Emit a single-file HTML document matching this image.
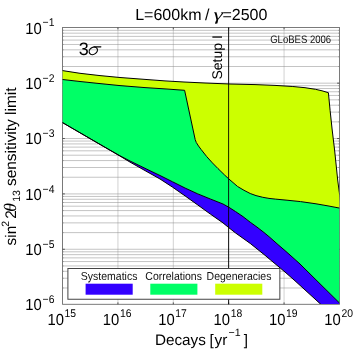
<!DOCTYPE html>
<html><head><meta charset="utf-8"><title>chart</title>
<style>html,body{margin:0;padding:0;background:#fff;width:357px;height:357px;overflow:hidden}
body{position:relative;font-family:"Liberation Sans",sans-serif}</style></head>
<body>
<svg width="357" height="357" viewBox="0 0 357 357" text-rendering="geometricPrecision" style="position:absolute;left:0;top:0;will-change:transform">
<defs><clipPath id="c"><rect x="62.30" y="27.45" width="276.95" height="276.65"/></clipPath></defs>
<rect x="0" y="0" width="357" height="357" fill="#fff"/>
<path d="M117.93 27.45V304.30M173.31 27.45V304.30M228.69 27.45V304.30M284.07 27.45V304.30" stroke="#a4a4a4" stroke-width="0.5" fill="none"/>
<path d="M62.55 83.17H339.45M62.55 66.50H339.45M62.55 56.75H339.45M62.55 49.83H339.45M62.55 44.47H339.45M62.55 40.08H339.45M62.55 36.38H339.45M62.55 33.17H339.45M62.55 30.33H339.45M62.55 138.54H339.45M62.55 121.87H339.45M62.55 112.12H339.45M62.55 105.20H339.45M62.55 99.84H339.45M62.55 95.45H339.45M62.55 91.75H339.45M62.55 88.54H339.45M62.55 85.70H339.45M62.55 193.91H339.45M62.55 177.24H339.45M62.55 167.49H339.45M62.55 160.57H339.45M62.55 155.21H339.45M62.55 150.82H339.45M62.55 147.12H339.45M62.55 143.91H339.45M62.55 141.07H339.45M62.55 249.28H339.45M62.55 232.61H339.45M62.55 222.86H339.45M62.55 215.94H339.45M62.55 210.58H339.45M62.55 206.19H339.45M62.55 202.49H339.45M62.55 199.28H339.45M62.55 196.44H339.45M62.55 287.98H339.45M62.55 278.23H339.45M62.55 271.31H339.45M62.55 265.95H339.45M62.55 261.56H339.45M62.55 257.86H339.45M62.55 254.65H339.45M62.55 251.81H339.45" stroke="#888888" stroke-width="0.5" fill="none"/>
<rect x="62.55" y="27.45" width="276.90" height="276.85" fill="none" stroke="#6c6c6c" stroke-width="0.9"/>
<g stroke="#777" stroke-width="0.7"><line x1="117.93" y1="304.30" x2="117.93" y2="302.40" stroke="#444" stroke-width="0.9"/><line x1="117.93" y1="27.45" x2="117.93" y2="29.35" stroke="#444" stroke-width="0.9"/><line x1="173.31" y1="304.30" x2="173.31" y2="302.40" stroke="#444" stroke-width="0.9"/><line x1="173.31" y1="27.45" x2="173.31" y2="29.35" stroke="#444" stroke-width="0.9"/><line x1="228.69" y1="304.30" x2="228.69" y2="302.40" stroke="#444" stroke-width="0.9"/><line x1="228.69" y1="27.45" x2="228.69" y2="29.35" stroke="#444" stroke-width="0.9"/><line x1="284.07" y1="304.30" x2="284.07" y2="302.40" stroke="#444" stroke-width="0.9"/><line x1="284.07" y1="27.45" x2="284.07" y2="29.35" stroke="#444" stroke-width="0.9"/><line x1="62.55" y1="83.17" x2="64.85" y2="83.17" stroke="#444" stroke-width="0.9"/><line x1="339.45" y1="83.17" x2="337.15" y2="83.17" stroke="#444" stroke-width="0.9"/><line x1="62.55" y1="66.50" x2="63.55" y2="66.50"/><line x1="339.45" y1="66.50" x2="338.45" y2="66.50"/><line x1="62.55" y1="56.75" x2="63.55" y2="56.75"/><line x1="339.45" y1="56.75" x2="338.45" y2="56.75"/><line x1="62.55" y1="49.83" x2="63.55" y2="49.83"/><line x1="339.45" y1="49.83" x2="338.45" y2="49.83"/><line x1="62.55" y1="44.47" x2="63.55" y2="44.47"/><line x1="339.45" y1="44.47" x2="338.45" y2="44.47"/><line x1="62.55" y1="40.08" x2="63.55" y2="40.08"/><line x1="339.45" y1="40.08" x2="338.45" y2="40.08"/><line x1="62.55" y1="36.38" x2="63.55" y2="36.38"/><line x1="339.45" y1="36.38" x2="338.45" y2="36.38"/><line x1="62.55" y1="33.17" x2="63.55" y2="33.17"/><line x1="339.45" y1="33.17" x2="338.45" y2="33.17"/><line x1="62.55" y1="30.33" x2="63.55" y2="30.33"/><line x1="339.45" y1="30.33" x2="338.45" y2="30.33"/><line x1="62.55" y1="138.54" x2="64.85" y2="138.54" stroke="#444" stroke-width="0.9"/><line x1="339.45" y1="138.54" x2="337.15" y2="138.54" stroke="#444" stroke-width="0.9"/><line x1="62.55" y1="121.87" x2="63.55" y2="121.87"/><line x1="339.45" y1="121.87" x2="338.45" y2="121.87"/><line x1="62.55" y1="112.12" x2="63.55" y2="112.12"/><line x1="339.45" y1="112.12" x2="338.45" y2="112.12"/><line x1="62.55" y1="105.20" x2="63.55" y2="105.20"/><line x1="339.45" y1="105.20" x2="338.45" y2="105.20"/><line x1="62.55" y1="99.84" x2="63.55" y2="99.84"/><line x1="339.45" y1="99.84" x2="338.45" y2="99.84"/><line x1="62.55" y1="95.45" x2="63.55" y2="95.45"/><line x1="339.45" y1="95.45" x2="338.45" y2="95.45"/><line x1="62.55" y1="91.75" x2="63.55" y2="91.75"/><line x1="339.45" y1="91.75" x2="338.45" y2="91.75"/><line x1="62.55" y1="88.54" x2="63.55" y2="88.54"/><line x1="339.45" y1="88.54" x2="338.45" y2="88.54"/><line x1="62.55" y1="85.70" x2="63.55" y2="85.70"/><line x1="339.45" y1="85.70" x2="338.45" y2="85.70"/><line x1="62.55" y1="193.91" x2="64.85" y2="193.91" stroke="#444" stroke-width="0.9"/><line x1="339.45" y1="193.91" x2="337.15" y2="193.91" stroke="#444" stroke-width="0.9"/><line x1="62.55" y1="177.24" x2="63.55" y2="177.24"/><line x1="339.45" y1="177.24" x2="338.45" y2="177.24"/><line x1="62.55" y1="167.49" x2="63.55" y2="167.49"/><line x1="339.45" y1="167.49" x2="338.45" y2="167.49"/><line x1="62.55" y1="160.57" x2="63.55" y2="160.57"/><line x1="339.45" y1="160.57" x2="338.45" y2="160.57"/><line x1="62.55" y1="155.21" x2="63.55" y2="155.21"/><line x1="339.45" y1="155.21" x2="338.45" y2="155.21"/><line x1="62.55" y1="150.82" x2="63.55" y2="150.82"/><line x1="339.45" y1="150.82" x2="338.45" y2="150.82"/><line x1="62.55" y1="147.12" x2="63.55" y2="147.12"/><line x1="339.45" y1="147.12" x2="338.45" y2="147.12"/><line x1="62.55" y1="143.91" x2="63.55" y2="143.91"/><line x1="339.45" y1="143.91" x2="338.45" y2="143.91"/><line x1="62.55" y1="141.07" x2="63.55" y2="141.07"/><line x1="339.45" y1="141.07" x2="338.45" y2="141.07"/><line x1="62.55" y1="249.28" x2="64.85" y2="249.28" stroke="#444" stroke-width="0.9"/><line x1="339.45" y1="249.28" x2="337.15" y2="249.28" stroke="#444" stroke-width="0.9"/><line x1="62.55" y1="232.61" x2="63.55" y2="232.61"/><line x1="339.45" y1="232.61" x2="338.45" y2="232.61"/><line x1="62.55" y1="222.86" x2="63.55" y2="222.86"/><line x1="339.45" y1="222.86" x2="338.45" y2="222.86"/><line x1="62.55" y1="215.94" x2="63.55" y2="215.94"/><line x1="339.45" y1="215.94" x2="338.45" y2="215.94"/><line x1="62.55" y1="210.58" x2="63.55" y2="210.58"/><line x1="339.45" y1="210.58" x2="338.45" y2="210.58"/><line x1="62.55" y1="206.19" x2="63.55" y2="206.19"/><line x1="339.45" y1="206.19" x2="338.45" y2="206.19"/><line x1="62.55" y1="202.49" x2="63.55" y2="202.49"/><line x1="339.45" y1="202.49" x2="338.45" y2="202.49"/><line x1="62.55" y1="199.28" x2="63.55" y2="199.28"/><line x1="339.45" y1="199.28" x2="338.45" y2="199.28"/><line x1="62.55" y1="196.44" x2="63.55" y2="196.44"/><line x1="339.45" y1="196.44" x2="338.45" y2="196.44"/><line x1="62.55" y1="287.98" x2="63.55" y2="287.98"/><line x1="339.45" y1="287.98" x2="338.45" y2="287.98"/><line x1="62.55" y1="278.23" x2="63.55" y2="278.23"/><line x1="339.45" y1="278.23" x2="338.45" y2="278.23"/><line x1="62.55" y1="271.31" x2="63.55" y2="271.31"/><line x1="339.45" y1="271.31" x2="338.45" y2="271.31"/><line x1="62.55" y1="265.95" x2="63.55" y2="265.95"/><line x1="339.45" y1="265.95" x2="338.45" y2="265.95"/><line x1="62.55" y1="261.56" x2="63.55" y2="261.56"/><line x1="339.45" y1="261.56" x2="338.45" y2="261.56"/><line x1="62.55" y1="257.86" x2="63.55" y2="257.86"/><line x1="339.45" y1="257.86" x2="338.45" y2="257.86"/><line x1="62.55" y1="254.65" x2="63.55" y2="254.65"/><line x1="339.45" y1="254.65" x2="338.45" y2="254.65"/><line x1="62.55" y1="251.81" x2="63.55" y2="251.81"/><line x1="339.45" y1="251.81" x2="338.45" y2="251.81"/></g>
<g clip-path="url(#c)">
<polygon points="62.5,70.6 80.0,73.3 100.0,75.6 120.0,77.5 145.0,79.4 165.0,80.9 184.0,82.0 205.0,83.0 230.0,84.0 255.0,84.6 275.0,85.4 292.8,86.5 305.0,87.7 315.5,89.3 322.0,90.8 328.4,92.7 330.1,110.4 332.2,130.0 334.6,150.0 337.7,180.0 339.3,192.4 345.0,240.0 345.0,209.0 339.6,208.1 328.0,205.9 316.0,203.8 300.6,201.6 288.0,200.3 275.4,199.1 269.0,198.4 262.8,197.3 256.0,195.6 250.2,193.5 244.0,190.3 237.6,186.5 228.5,178.7 224.7,175.1 218.0,168.6 212.4,162.9 206.8,156.7 201.2,149.6 198.5,146.0 196.3,142.5 195.2,139.6 184.6,90.3 165.0,88.9 145.0,87.6 120.0,85.6 100.0,83.6 80.0,81.5 62.5,79.5" fill="#ccff00" stroke="none"/>
<polygon points="62.5,79.5 80.0,81.5 100.0,83.6 120.0,85.6 145.0,87.6 165.0,88.9 184.6,90.3 195.2,139.6 196.3,142.5 198.5,146.0 201.2,149.6 206.8,156.7 212.4,162.9 218.0,168.6 224.7,175.1 228.5,178.7 237.6,186.5 244.0,190.3 250.2,193.5 256.0,195.6 262.8,197.3 269.0,198.4 275.4,199.1 288.0,200.3 300.6,201.6 316.0,203.8 328.0,205.9 339.6,208.1 345.0,209.0 345.0,308.3 339.6,303.1 320.0,283.8 300.0,264.0 292.0,256.8 285.0,250.6 278.0,244.6 270.0,237.5 264.0,232.5 257.0,227.1 250.2,222.2 243.0,216.6 235.6,211.6 228.6,207.1 223.0,204.0 210.4,199.0 197.8,193.9 185.2,188.1 172.6,181.8 160.0,175.5 145.0,168.3 130.0,161.0 120.0,155.8 100.0,144.4 62.5,122.6" fill="#00ff66" stroke="none"/>
<polygon points="62.5,122.6 100.0,144.4 120.0,155.8 130.0,161.0 145.0,168.3 160.0,175.5 172.6,181.8 185.2,188.1 197.8,193.9 210.4,199.0 223.0,204.0 228.6,207.1 235.6,211.6 243.0,216.6 250.2,222.2 257.0,227.1 264.0,232.5 270.0,237.5 278.0,244.6 285.0,250.6 292.0,256.8 300.0,264.0 320.0,283.8 339.6,303.1 345.0,308.3 330.0,312.7 320.9,304.4 295.0,280.8 285.0,272.0 270.6,260.0 265.0,255.3 250.2,243.4 235.6,233.0 228.6,227.5 223.0,222.9 210.4,214.1 197.8,205.0 185.2,196.0 172.6,187.2 160.0,179.0 145.0,170.6 130.0,162.1 120.0,156.1 100.0,144.4 62.5,122.6" fill="#3300ff" stroke="none"/>
<polyline points="62.5,70.6 80.0,73.3 100.0,75.6 120.0,77.5 145.0,79.4 165.0,80.9 184.0,82.0 205.0,83.0 230.0,84.0 255.0,84.6 275.0,85.4 292.8,86.5 305.0,87.7 315.5,89.3 322.0,90.8 328.4,92.7 330.1,110.4 332.2,130.0 334.6,150.0 337.7,180.0 339.3,192.4 345.0,240.0" fill="none" stroke="#000" stroke-width="1.0" stroke-linejoin="miter"/>
<polyline points="62.5,79.5 80.0,81.5 100.0,83.6 120.0,85.6 145.0,87.6 165.0,88.9 184.6,90.3 195.2,139.6 196.3,142.5 198.5,146.0 201.2,149.6 206.8,156.7 212.4,162.9 218.0,168.6 224.7,175.1 228.5,178.7 237.6,186.5 244.0,190.3 250.2,193.5 256.0,195.6 262.8,197.3 269.0,198.4 275.4,199.1 288.0,200.3 300.6,201.6 316.0,203.8 328.0,205.9 339.6,208.1 345.0,209.0" fill="none" stroke="#000" stroke-width="1.0" stroke-linejoin="miter"/>
<polyline points="62.5,122.6 100.0,144.4 120.0,155.8 130.0,161.0 145.0,168.3 160.0,175.5 172.6,181.8 185.2,188.1 197.8,193.9 210.4,199.0 223.0,204.0 228.6,207.1 235.6,211.6 243.0,216.6 250.2,222.2 257.0,227.1 264.0,232.5 270.0,237.5 278.0,244.6 285.0,250.6 292.0,256.8 300.0,264.0 320.0,283.8 339.6,303.1 345.0,308.3" fill="none" stroke="#000" stroke-width="1.0" stroke-linejoin="miter"/>
<polyline points="62.5,122.6 100.0,144.4 120.0,156.1 130.0,162.1 145.0,170.6 160.0,179.0 172.6,187.2 185.2,196.0 197.8,205.0 210.4,214.1 223.0,222.9 228.6,227.5 235.6,233.0 250.2,243.4 265.0,255.3 270.6,260.0 285.0,272.0 295.0,280.8 320.9,304.4 330.0,312.7" fill="none" stroke="#000" stroke-width="1.0" stroke-linejoin="miter"/>
</g>
<line x1="228.6" y1="27.45" x2="228.6" y2="304.30" stroke="#000" stroke-width="0.9"/>
<rect x="67.9" y="268.5" width="211.95" height="30.75" fill="#fff" stroke="#444" stroke-width="1"/>
<rect x="85.6" y="283.7" width="47.1" height="11" fill="#3300ff"/>
<rect x="150.3" y="283.7" width="47.1" height="11" fill="#00ff66"/>
<rect x="215.2" y="283.7" width="47.1" height="11" fill="#ccff00"/>
<text transform="translate(109.15,280.3) scale(1,1.1)" font-family="Liberation Sans, sans-serif" font-size="10.5" text-anchor="middle" fill="#111">Systematics</text>
<text transform="translate(173.60,280.3) scale(1,1.1)" font-family="Liberation Sans, sans-serif" font-size="10.5" text-anchor="middle" fill="#111">Correlations</text>
<text transform="translate(239.00,280.3) scale(1,1.1)" font-family="Liberation Sans, sans-serif" font-size="10.5" text-anchor="middle" fill="#111">Degeneracies</text>
<text transform="translate(47.45,324.8) scale(1,1.08)" font-family="Liberation Sans, sans-serif" font-size="14.8" fill="#000"><tspan>10</tspan><tspan dy="-6.94" dx="0.6" font-size="10.4">15</tspan></text>
<text transform="translate(102.83,324.8) scale(1,1.08)" font-family="Liberation Sans, sans-serif" font-size="14.8" fill="#000"><tspan>10</tspan><tspan dy="-6.94" dx="0.6" font-size="10.4">16</tspan></text>
<text transform="translate(158.21,324.8) scale(1,1.08)" font-family="Liberation Sans, sans-serif" font-size="14.8" fill="#000"><tspan>10</tspan><tspan dy="-6.94" dx="0.6" font-size="10.4">17</tspan></text>
<text transform="translate(213.59,324.8) scale(1,1.08)" font-family="Liberation Sans, sans-serif" font-size="14.8" fill="#000"><tspan>10</tspan><tspan dy="-6.94" dx="0.6" font-size="10.4">18</tspan></text>
<text transform="translate(268.97,324.8) scale(1,1.08)" font-family="Liberation Sans, sans-serif" font-size="14.8" fill="#000"><tspan>10</tspan><tspan dy="-6.94" dx="0.6" font-size="10.4">19</tspan></text>
<text transform="translate(324.35,324.8) scale(1,1.08)" font-family="Liberation Sans, sans-serif" font-size="14.8" fill="#000"><tspan>10</tspan><tspan dy="-6.94" dx="0.6" font-size="10.4">20</tspan></text>
<text transform="translate(25.3,33.50) scale(1,1.08)" font-family="Liberation Sans, sans-serif" font-size="14.8" fill="#000"><tspan>10</tspan><tspan dy="-6.57" dx="0.8" font-size="10.4">−1</tspan></text>
<text transform="translate(25.3,88.87) scale(1,1.08)" font-family="Liberation Sans, sans-serif" font-size="14.8" fill="#000"><tspan>10</tspan><tspan dy="-6.57" dx="0.8" font-size="10.4">−2</tspan></text>
<text transform="translate(25.3,144.24) scale(1,1.08)" font-family="Liberation Sans, sans-serif" font-size="14.8" fill="#000"><tspan>10</tspan><tspan dy="-6.57" dx="0.8" font-size="10.4">−3</tspan></text>
<text transform="translate(25.3,199.61) scale(1,1.08)" font-family="Liberation Sans, sans-serif" font-size="14.8" fill="#000"><tspan>10</tspan><tspan dy="-6.57" dx="0.8" font-size="10.4">−4</tspan></text>
<text transform="translate(25.3,254.98) scale(1,1.08)" font-family="Liberation Sans, sans-serif" font-size="14.8" fill="#000"><tspan>10</tspan><tspan dy="-6.57" dx="0.8" font-size="10.4">−5</tspan></text>
<text transform="translate(25.3,310.35) scale(1,1.08)" font-family="Liberation Sans, sans-serif" font-size="14.8" fill="#000"><tspan>10</tspan><tspan dy="-6.57" dx="0.8" font-size="10.4">−6</tspan></text>
<text x="135.2" y="19.5" font-family="Liberation Sans, sans-serif" font-size="16" fill="#000">L=600km<tspan dx="3.6">/</tspan></text>
<text transform="translate(213.6,19.5) scale(1.4,1)" font-family="Liberation Serif, serif" font-style="italic" font-size="17" fill="#000">γ</text>
<text x="222.4" y="19.5" font-family="Liberation Sans, sans-serif" font-size="16" fill="#000">=2500</text>
<text x="154.90" y="345.30" font-family="Liberation Sans, sans-serif" font-size="15.3" fill="#000">Decays</text>
<text x="209.60" y="345.30" font-family="Liberation Sans, sans-serif" font-size="15.3" fill="#000">[</text>
<text x="214.50" y="345.30" font-family="Liberation Sans, sans-serif" font-size="15.3" fill="#000">yr</text>
<text x="228.60" y="335.50" font-family="Liberation Sans, sans-serif" font-size="10.6" fill="#000">−1</text>
<text x="243.70" y="345.30" font-family="Liberation Sans, sans-serif" font-size="15.3" fill="#000">]</text>
<g transform="translate(16.3,244.6) rotate(-90)"><text transform="translate(-0.80,0.00) scale(1,1)" font-family="Liberation Sans, sans-serif" font-size="15.3" fill="#000">sin</text><text transform="translate(17.90,-7.50) scale(1,1)" font-family="Liberation Sans, sans-serif" font-size="10.6" fill="#000">2</text><text transform="translate(25.80,0.00) scale(1,1)" font-family="Liberation Sans, sans-serif" font-size="15.3" fill="#000">2</text><text transform="translate(32.90,0.00) scale(1.0,1)" font-family="Liberation Serif, serif" font-style="italic" font-size="17.6" fill="#000">θ</text><text transform="translate(42.80,3.40) scale(1,1)" font-family="Liberation Sans, sans-serif" font-size="10.6" fill="#000">13</text><text transform="translate(58.60,0.00) scale(1,1)" font-family="Liberation Sans, sans-serif" font-size="15.42" fill="#000">sensitivity limit</text></g>
<text transform="translate(222.3,79.6) rotate(-90)" font-family="Liberation Sans, sans-serif" font-size="14" fill="#000">Setup I</text>
<text transform="translate(270.2,43.2) scale(0.935,1.07)" font-family="Liberation Sans, sans-serif" font-size="10.2" fill="#111">GLoBES 2006</text>
<text x="78.7" y="54.7" font-family="Liberation Sans, sans-serif" font-size="18" fill="#000">3</text>
<g fill="none" stroke="#000" stroke-linecap="round"><ellipse cx="93.3" cy="50.8" rx="4.4" ry="3.45" transform="rotate(-35 93.3 50.8)" stroke-width="1.2"/><path d="M94.0 46.95 L100.8 46.85" stroke-width="1.3"/></g>
</svg>
</body></html>
